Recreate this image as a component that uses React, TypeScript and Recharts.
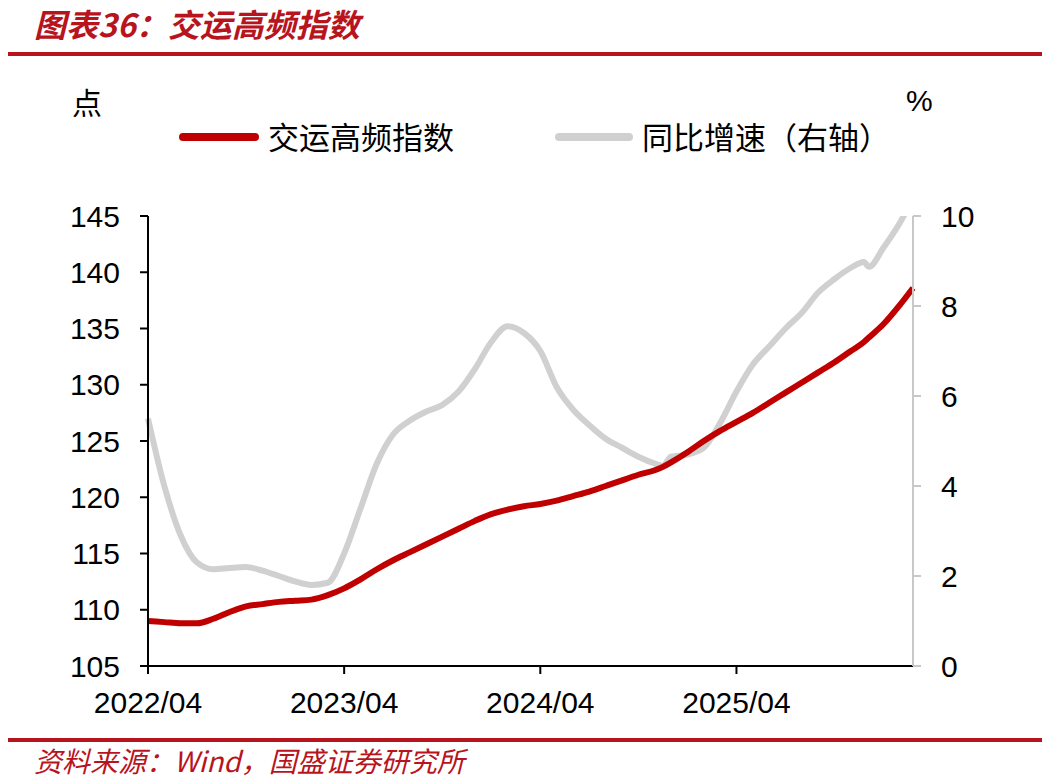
import { Line, LineChart, XAxis, YAxis } from "recharts";

const RED = "#c00000";
const GRAY = "#d0d0d0";
const TITLE_RED = "#b8141e";

// months since 2022/04
const months = [
  0, 1, 2, 3, 4, 5, 6, 7, 8, 9, 10, 11, 12, 13, 14, 15, 16, 17, 18, 19, 20, 21, 22, 23, 24, 25, 26, 27, 28, 29,
  30, 31, 31.5, 32, 33, 34, 35, 36, 37, 38, 39, 40, 41, 42, 43, 43.8, 44.1, 45, 46, 46.8,
];

const indexValues = [
  109.0, 108.9, 108.8, 108.8, 109.2, 109.8, 110.3, 110.5, 110.7, 110.8, 110.9, 111.3, 111.9, 112.7, 113.6, 114.4,
  115.1, 115.8, 116.5, 117.2, 117.9, 118.5, 118.9, 119.2, 119.4, 119.7, 120.1, 120.5, 121.0, 121.5, 122.0, 122.4,
  122.7, 123.1, 124.0, 125.0, 125.9, 126.7, 127.5, 128.4, 129.3, 130.2, 131.1, 132.0, 133.0, 133.8, 134.2, 135.4,
  137.1, 138.6,
];

const yoyValues = [
  5.5, 4.0, 2.9, 2.3, 2.15, 2.18, 2.2, 2.12, 2.0, 1.88, 1.8, 1.85, 2.5, 3.5, 4.5, 5.15, 5.45, 5.65, 5.8, 6.1, 6.6,
  7.2, 7.55, 7.4, 7.0, 6.2, 5.7, 5.35, 5.05, 4.85, 4.65, 4.5, 4.45, 4.65, 4.7, 4.85, 5.4, 6.1, 6.7, 7.1, 7.5, 7.85,
  8.3, 8.6, 8.85, 8.98, 8.87, 9.3, 9.85, 10.4,
];

const xTicks = [0, 12, 24, 36];
const xTickLabels = ["2022/04", "2023/04", "2024/04", "2025/04"];
const leftTicks = [105, 110, 115, 120, 125, 130, 135, 140, 145];
const rightTicks = [0, 2, 4, 6, 8, 10];

const data = months.map((t, i) => ({ t, index: indexValues[i], yoy: yoyValues[i] }));

const tickFont = { fontFamily: "'Liberation Sans', Arial, sans-serif", fontSize: 30, fill: "#000" };
const cjk = "'Noto Sans CJK SC', sans-serif";

export default function App() {
  return (
    <div style={{ position: "absolute", left: 0, top: 0, width: 1055, height: 779, background: "#fff" }}>
      <div
        style={{
          position: "absolute",
          left: 34,
          top: 0,
          paddingRight: 12,
          fontFamily: cjk,
          fontSize: 32,
          fontWeight: 700,
          fontStyle: "italic",
          color: TITLE_RED,
          lineHeight: "normal",
          whiteSpace: "nowrap",
        }}
      >
        图表36：交运高频指数
      </div>
      <div style={{ position: "absolute", left: 8, top: 52, width: 1034, height: 4, background: TITLE_RED }} />

      <div style={{ position: "absolute", left: 72, top: 80, fontFamily: cjk, fontSize: 30, lineHeight: "42px" }}>点</div>
      <div
        style={{
          position: "absolute",
          left: 906,
          top: 80,
          fontFamily: "'Liberation Sans', Arial, sans-serif",
          fontSize: 30,
          lineHeight: "42px",
        }}
      >
        %
      </div>

      {/* legend */}
      <div style={{ position: "absolute", left: 179, top: 133, width: 80, height: 8, borderRadius: 4, background: RED }} />
      <div style={{ position: "absolute", left: 268, top: 115, fontFamily: cjk, fontSize: 31, lineHeight: "42px" }}>
        交运高频指数
      </div>
      <div style={{ position: "absolute", left: 555, top: 133, width: 78, height: 8, borderRadius: 4, background: GRAY }} />
      <div style={{ position: "absolute", left: 642, top: 115, fontFamily: cjk, fontSize: 31, lineHeight: "42px" }}>
        同比增速（右轴）
      </div>

      <div style={{ position: "absolute", left: 0, top: 0 }}>
        <LineChart width={1055} height={779} data={data} margin={{ top: 216, right: 82, bottom: 73, left: 88 }}>
          <XAxis
            dataKey="t"
            type="number"
            domain={[0, 46.8]}
            ticks={xTicks}
            tickFormatter={(v: number) => xTickLabels[xTicks.indexOf(v)] ?? ""}
            height={40}
            tickSize={8}
            tickMargin={18}
            stroke="#000"
            strokeWidth={2}
            tick={tickFont}
            interval={0}
          />
          <YAxis
            yAxisId="left"
            domain={[105, 145]}
            ticks={leftTicks}
            width={60}
            tickSize={8}
            tickMargin={20}
            stroke="#000"
            strokeWidth={2}
            tick={tickFont}
            interval={0}
          />
          <YAxis
            yAxisId="right"
            orientation="right"
            domain={[0, 10]}
            ticks={rightTicks}
            allowDataOverflow
            width={60}
            tickSize={8}
            tickMargin={20}
            stroke="#c8c8c8"
            strokeWidth={2}
            tick={tickFont}
            interval={0}
          />
          <Line
            yAxisId="right"
            type="monotone"
            dataKey="yoy"
            stroke={GRAY}
            strokeWidth={6}
            dot={false}
            isAnimationActive={false}
          />
          <Line
            yAxisId="left"
            type="monotone"
            dataKey="index"
            stroke={RED}
            strokeWidth={6}
            dot={false}
            isAnimationActive={false}
          />
        </LineChart>
      </div>

      <div style={{ position: "absolute", left: 8, top: 738, width: 1034, height: 4, background: TITLE_RED }} />
      <div
        style={{
          position: "absolute",
          left: 34,
          top: 743,
          fontFamily: cjk,
          fontSize: 28,
          fontStyle: "italic",
          color: TITLE_RED,
          lineHeight: "34px",
          whiteSpace: "nowrap",
        }}
      >
        资料来源：Wind，国盛证券研究所
      </div>
    </div>
  );
}
